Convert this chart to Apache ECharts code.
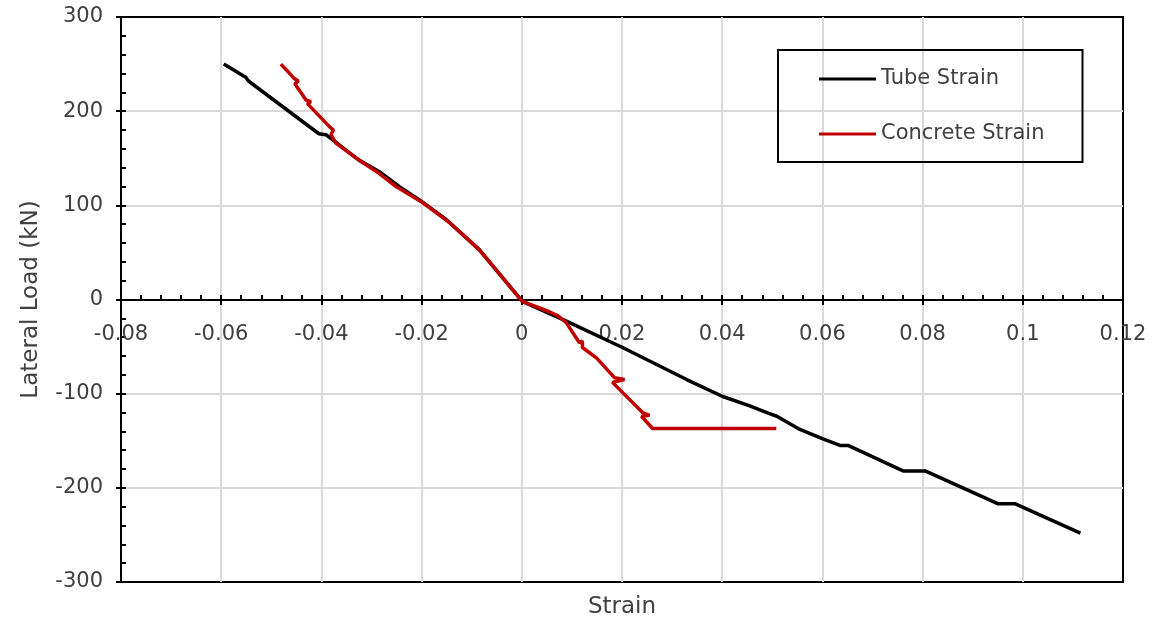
<!DOCTYPE html>
<html>
<head>
<meta charset="utf-8">
<script src="https://cdn.jsdelivr.net/npm/echarts@6/dist/echarts.min.js"></script>
<style>
  html, body { margin: 0; padding: 0; background: #fff; }
  #main { width: 1153px; height: 624px; }
</style>
</head>
<body>
<div id="main"></div>
<script>
// Tube Strain (black)
var tubeStrain = [-0.0595, -0.0551, -0.0547, -0.0543, -0.0405, -0.0391, -0.0325, -0.0285, -0.0245, -0.0205, -0.0151, -0.0085, 0.0001, 0.0089, 0.0201, 0.0329, 0.0401, 0.0455, 0.0493, 0.0509, 0.0555, 0.0601, 0.0635, 0.0651, 0.0761, 0.0805, 0.0951, 0.0985, 0.1115];
var tubeLoad = [250, 236, 233, 231, 176, 175, 148, 136, 120, 106, 85, 53, -2, -23, -51, -85, -103, -113, -121, -124, -138, -148, -155, -155, -182, -182, -217, -217, -248];
// Concrete Strain (red)
var concreteStrain = [-0.0481, -0.0465, -0.0455, -0.0446, -0.0453, -0.0431, -0.0421, -0.0428, -0.0381, -0.0376, -0.0381, -0.0371, -0.0325, -0.0285, -0.0251, -0.0198, -0.0145, -0.0085, 0.0001, 0.0055, 0.0071, 0.0088, 0.0115, 0.0121, 0.0121, 0.0149, 0.0185, 0.0205, 0.0181, 0.0241, 0.0255, 0.0239, 0.0261, 0.0508];
var concreteLoad = [250, 241, 235, 232, 229, 212, 210, 208, 182, 180, 175, 166, 148, 134, 120, 103, 82, 53, -2, -13, -17, -24, -46, -44, -51, -62, -83, -85, -88, -120, -123, -124, -137, -137];

var seriesNames = ['Tube Strain', 'Concrete Strain'];

function pairs(xs, ys) {
  var out = [];
  for (var i = 0; i < xs.length; i++) out.push([xs[i], ys[i]]);
  return out;
}

var font = 'DejaVu Sans';
var txt = '#404040';
var xMin = -0.08, xMax = 0.12, xStep = 0.02;
var yMin = -300, yMax = 300, yStep = 100;
var black2 = { color: '#000', width: 2 };
var gridLine = { show: true, showMinLine: false, showMaxLine: false, lineStyle: { color: '#d9d9d9', width: 2 } };

var chart = echarts.init(document.getElementById('main'));
var option = {
  animation: false,
  // 0: whole plot, 1: upper half (x axis drawn at load = 0), 2: lower half
  grid: [
    { left: 121, right: 30, top: 17, bottom: 41, show: true, borderColor: '#000', borderWidth: 2 },
    { left: 121, right: 30, top: 17, bottom: 324 },
    { left: 121, right: 30, top: 300, bottom: 41 }
  ],
  legend: {
    data: seriesNames,
    orient: 'vertical',
    left: 778, top: 50,
    padding: [17, 38, 16, 41],
    itemGap: 31,
    icon: 'rect',
    itemWidth: 57, itemHeight: 3,
    borderColor: '#000', borderWidth: 2,
    textStyle: { fontFamily: font, fontSize: 21, color: txt, lineHeight: 24 }
  },
  xAxis: [
    {
      gridIndex: 0, type: 'value', min: xMin, max: xMax, interval: xStep, position: 'bottom',
      axisLine: { show: false, onZero: false },
      axisTick: { show: false }, axisLabel: { show: false },
      splitLine: gridLine,
      name: 'Strain', nameLocation: 'middle', nameGap: 14,
      nameTextStyle: { fontFamily: font, fontSize: 23, color: txt }
    },
    {
      gridIndex: 1, type: 'value', min: xMin, max: xMax, interval: xStep, position: 'bottom',
      axisLine: { onZero: false, lineStyle: black2 },
      axisTick: { inside: true, length: 5, lineStyle: black2 },
      minorTick: { show: true, splitNumber: 5, length: 5, lineStyle: black2 },
      axisLabel: { fontFamily: font, fontSize: 21, color: txt, margin: 24, showMinLabel: true, showMaxLabel: true },
      splitLine: { show: false }
    },
    {
      gridIndex: 2, type: 'value', min: xMin, max: xMax, interval: xStep, position: 'top',
      axisLine: { show: false, onZero: false },
      axisTick: { inside: true, length: 5, lineStyle: black2 },
      axisLabel: { show: false },
      splitLine: { show: false }
    }
  ],
  yAxis: [
    {
      gridIndex: 0, type: 'value', min: yMin, max: yMax, interval: yStep,
      axisLine: { onZero: false, lineStyle: black2 },
      axisTick: { inside: true, length: 5, lineStyle: black2 },
      minorTick: { show: true, splitNumber: 5, length: 5, lineStyle: black2 },
      axisLabel: { fontFamily: font, fontSize: 21, color: txt, margin: 18 },
      splitLine: gridLine,
      name: 'Lateral Load (kN)', nameLocation: 'middle', nameGap: 78,
      nameTextStyle: { fontFamily: font, fontSize: 23, color: txt }
    },
    {
      gridIndex: 0, type: 'value', min: yMin, max: yMax, interval: yStep, position: 'left',
      axisLine: { show: false, onZero: false },
      axisTick: { inside: false, length: 5, lineStyle: black2 },
      axisLabel: { show: false },
      splitLine: { show: false }
    },
    { gridIndex: 1, type: 'value', min: 0, max: yMax, show: false },
    { gridIndex: 2, type: 'value', min: yMin, max: 0, show: false }
  ],
  series: [
    {
      name: seriesNames[0], type: 'line', symbol: 'none',
      xAxisIndex: 0, yAxisIndex: 0,
      lineStyle: { color: '#000000', width: 3.5 }, itemStyle: { color: '#000000' },
      data: pairs(tubeStrain, tubeLoad)
    },
    {
      name: seriesNames[1], type: 'line', symbol: 'none',
      xAxisIndex: 0, yAxisIndex: 0,
      lineStyle: { color: '#c00000', width: 3.5 }, itemStyle: { color: '#c00000' },
      data: pairs(concreteStrain, concreteLoad)
    }
  ]
};
chart.setOption(option);
</script>
</body>
</html>
